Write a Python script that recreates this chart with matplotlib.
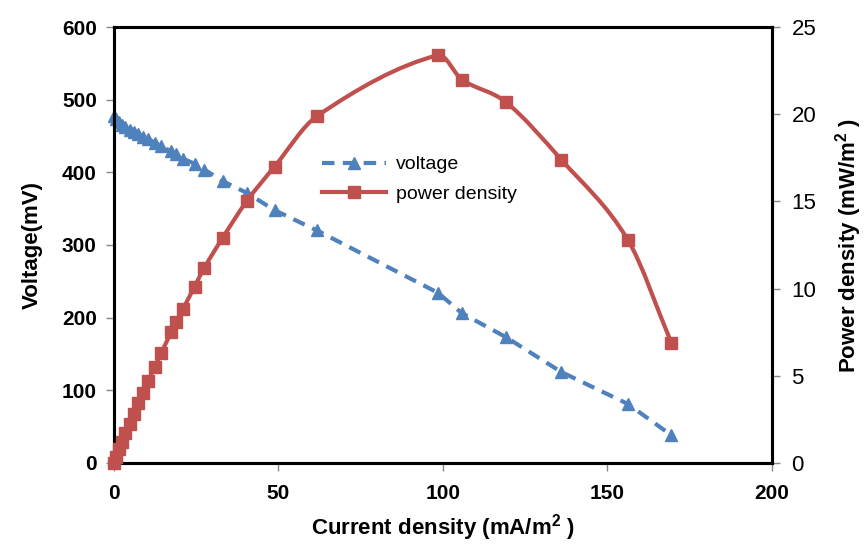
import numpy as np
import matplotlib
matplotlib.use("Agg")
import matplotlib.pyplot as plt
from matplotlib.path import Path
from matplotlib.patches import PathPatch
from matplotlib.lines import Line2D

plt.rcParams["mathtext.default"] = "regular"

# ---- data ----
current = [0, 0.6, 1.6, 2.6, 3.6, 4.9, 6.1, 7.5, 9.0, 10.5, 12.5, 14.5, 17.5, 19.0,
           21.0, 24.6, 27.6, 33.1, 40.4, 48.9, 61.8, 98.6, 105.8, 119.2, 136.0, 156.2, 169.4]
voltage = [478, 474, 470, 466, 463, 459, 456, 453, 449, 446, 441, 436, 429, 425,
           419, 412, 404, 388, 372, 348, 320, 234, 206, 173, 125, 81, 38]
power = [0, 0.3, 0.8, 1.2, 1.7, 2.2, 2.8, 3.4, 4.0, 4.7, 5.5, 6.3, 7.5, 8.1,
         8.8, 10.1, 11.2, 12.9, 15.0, 17.0, 19.9, 23.4, 22.0, 20.7, 17.4, 12.8, 6.9]

x_ticks = [0, 50, 100, 150, 200]
v_ticks = [0, 100, 200, 300, 400, 500, 600]
p_ticks = [0, 5, 10, 15, 20, 25]

BLUE = "#4F81BD"
RED = "#C0504D"

fig = plt.figure(figsize=(8.64, 5.5), dpi=100)
ax = fig.add_axes([0.1314, 0.1587, 0.7621, 0.7917])
ax2 = ax.twinx()

ax.set_xlim(0, 200)
ax.set_ylim(0, 600)
ax2.set_ylim(0, 25)


def smooth_path(xs, ys):
    """Cubic Hermite curve through the data points (slopes from neighbours)."""
    xs = np.asarray(xs, float)
    ys = np.asarray(ys, float)
    n = len(xs)
    slopes = np.zeros(n)
    for i in range(n):
        i0 = max(i - 1, 0)
        i1 = min(i + 1, n - 1)
        slopes[i] = (ys[i1] - ys[i0]) / (xs[i1] - xs[i0])
    verts = [(xs[0], ys[0])]
    codes = [Path.MOVETO]
    for i in range(n - 1):
        h = xs[i + 1] - xs[i]
        c1 = (xs[i] + h / 3.0, ys[i] + slopes[i] * h / 3.0)
        c2 = (xs[i + 1] - h / 3.0, ys[i + 1] - slopes[i + 1] * h / 3.0)
        verts += [c1, c2, (xs[i + 1], ys[i + 1])]
        codes += [Path.CURVE4] * 3
    return Path(verts, codes)


# voltage: dashed line with triangles
ax.plot(current, voltage, color=BLUE, lw=3, ls=(0, (3, 2)), zorder=3)
ax.plot(current, voltage, ls="none", marker="^", ms=9, color=BLUE,
        markeredgecolor=BLUE, zorder=4, clip_on=False)

# power: smoothed solid line with squares
patch = PathPatch(smooth_path(current, power), facecolor="none", edgecolor=RED,
                  lw=3, zorder=3, capstyle="round", joinstyle="round")
ax2.add_patch(patch)
ax2.plot(current, power, ls="none", marker="s", ms=8, color=RED,
         markeredgecolor=RED, zorder=4, clip_on=False)

# ticks
ax.set_xticks(x_ticks)
ax.set_yticks(v_ticks)
ax2.set_yticks(p_ticks)

for a in (ax, ax2):
    for s in a.spines.values():
        s.set_linewidth(2.2)
        s.set_color("black")

ax.tick_params(axis="both", direction="out", length=6, width=1, color="#888888",
               labelsize=15, pad=6)
ax.tick_params(axis="x", pad=9)
ax2.tick_params(axis="y", direction="out", length=6, width=1, color="#888888",
                labelsize=16, pad=8)
for lab in ax.get_xticklabels() + ax.get_yticklabels():
    lab.set_fontweight("bold")
    lab.set_family("Liberation Sans")
for lab in ax2.get_yticklabels():
    lab.set_family("Liberation Sans")

ax.set_xlabel("Current density (mA/m$^{2}$ )", fontsize=16, fontweight="bold",
              family="Liberation Sans", labelpad=7)
ax.set_ylabel("Voltage(mV)", fontsize=16, fontweight="bold",
              family="Liberation Sans", labelpad=14)
ax2.set_ylabel("Power density (mW/m$^{2}$ )", fontsize=16, fontweight="bold",
               family="Liberation Sans", labelpad=12)

handles = [
    Line2D([], [], color=BLUE, lw=3, ls=(0, (3, 2)), marker="^", ms=9),
    Line2D([], [], color=RED, lw=3, marker="s", ms=8),
]
leg = ax.legend(handles, ["voltage", "power density"], loc="upper left",
                bbox_to_anchor=(0.29, 0.745), frameon=False,
                prop={"family": "Liberation Sans", "size": 14},
                handlelength=3.3, labelspacing=0.6, handletextpad=0.5)
leg.set_zorder(10)

fig.savefig("out.png", dpi=100)
